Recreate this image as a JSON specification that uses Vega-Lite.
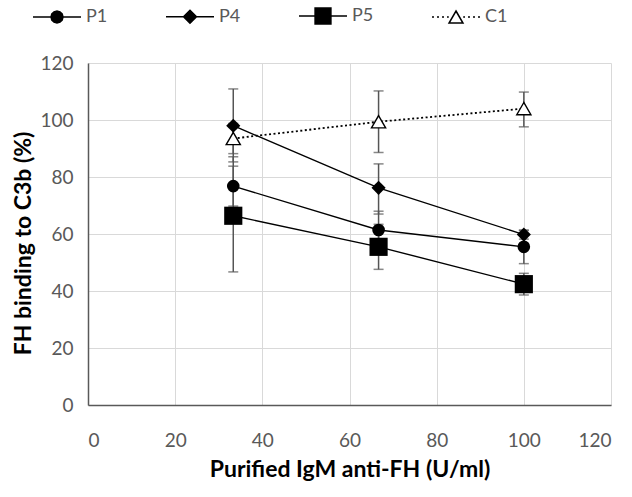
{
  "$schema": "https://vega.github.io/schema/vega-lite/v6.json",
  "width": 523,
  "height": 342,
  "autosize": "none",
  "padding": {"left": 88, "top": 63, "right": 21, "bottom": 92},
  "background": "white",
  "config": {"view": {"stroke": null}, "font": "Lato"},
  "data": {
    "values": [
      {"s": "P1", "x": 33.33, "y": 76.8, "lo": 69.8, "hi": 83.8},
      {"s": "P1", "x": 66.67, "y": 61.4, "lo": 54.8, "hi": 68.0},
      {"s": "P1", "x": 100, "y": 55.5, "lo": 49.6, "hi": 61.2},
      {"s": "P4", "x": 33.33, "y": 98.0, "lo": 85.3, "hi": 110.9},
      {"s": "P4", "x": 66.67, "y": 76.2, "lo": 67.0, "hi": 84.6},
      {"s": "P4", "x": 100, "y": 59.8, "lo": 58.2, "hi": 61.4},
      {"s": "P5", "x": 33.33, "y": 66.4, "lo": 46.7, "hi": 87.1},
      {"s": "P5", "x": 66.67, "y": 55.5, "lo": 47.6, "hi": 63.4},
      {"s": "P5", "x": 100, "y": 42.4, "lo": 38.6, "hi": 46.2},
      {"s": "C1", "x": 33.33, "y": 93.5, "lo": 88.2, "hi": 98.8},
      {"s": "C1", "x": 66.67, "y": 99.4, "lo": 88.6, "hi": 110.2},
      {"s": "C1", "x": 100, "y": 104.0, "lo": 97.6, "hi": 109.8}
    ]
  },
  "layer": [
    {
      "mark": {"type": "rule", "color": "#555555", "strokeWidth": 1.5},
      "encoding": {
        "x": {
          "field": "x", "type": "quantitative",
          "scale": {"domain": [0, 120], "nice": false, "zero": false},
          "axis": {
            "title": "Purified IgM anti-FH (U/ml)",
            "values": [0, 20, 40, 60, 80, 100, 120],
            "grid": true, "gridColor": "#d9d9d9", "gridWidth": 1,
            "domainColor": "#595959", "domainWidth": 1.5,
            "ticks": false, "tickSize": 0,
            "labelPadding": 26, "labelFontSize": 19, "labelColor": "#595959", "labelFont": "Lato",
            "titleFont": "Lato", "titleFontSize": 23, "titleFontWeight": "bold", "titleColor": "#000000",
            "titleBaseline": "middle", "titleY": 64
          }
        },
        "y": {
          "field": "lo", "type": "quantitative",
          "scale": {"domain": [0, 120], "nice": false},
          "axis": {
            "title": "FH binding to C3b (%)",
            "values": [0, 20, 40, 60, 80, 100, 120],
            "grid": true, "gridColor": "#d9d9d9", "gridWidth": 1,
            "domainColor": "#595959", "domainWidth": 1.5,
            "ticks": false, "tickSize": 0,
            "labelPadding": 15, "labelFontSize": 19, "labelColor": "#595959", "labelFont": "Lato",
            "titleFont": "Lato", "titleFontSize": 23, "titleFontWeight": "bold", "titleColor": "#000000",
            "titleBaseline": "middle", "titleX": -65, "titleY": 180
          }
        },
        "y2": {"field": "hi"}
      }
    },
    {
      "mark": {"type": "tick", "orient": "horizontal", "color": "#555555", "thickness": 1.5, "size": 10},
      "encoding": {
        "x": {"field": "x", "type": "quantitative"},
        "y": {"field": "lo", "type": "quantitative"}
      }
    },
    {
      "mark": {"type": "tick", "orient": "horizontal", "color": "#555555", "thickness": 1.5, "size": 10},
      "encoding": {
        "x": {"field": "x", "type": "quantitative"},
        "y": {"field": "hi", "type": "quantitative"}
      }
    },
    {
      "transform": [{"filter": "datum.s !== 'C1'"}],
      "mark": {"type": "line", "color": "black", "strokeWidth": 1.4},
      "encoding": {
        "x": {"field": "x", "type": "quantitative"},
        "y": {"field": "y", "type": "quantitative"},
        "detail": {"field": "s", "type": "nominal"}
      }
    },
    {
      "transform": [{"filter": "datum.s === 'C1'"}],
      "mark": {"type": "line", "color": "black", "strokeWidth": 1.8, "strokeDash": [2, 2.5]},
      "encoding": {
        "x": {"field": "x", "type": "quantitative"},
        "y": {"field": "y", "type": "quantitative"}
      }
    },
    {
      "transform": [{"filter": "datum.s === 'P1'"}],
      "mark": {"type": "point", "shape": "circle", "size": 160, "filled": true, "color": "black", "opacity": 1},
      "encoding": {
        "x": {"field": "x", "type": "quantitative"},
        "y": {"field": "y", "type": "quantitative"}
      }
    },
    {
      "transform": [{"filter": "datum.s === 'P4'"}],
      "mark": {"type": "point", "shape": "diamond", "size": 200, "filled": true, "color": "black", "opacity": 1},
      "encoding": {
        "x": {"field": "x", "type": "quantitative"},
        "y": {"field": "y", "type": "quantitative"}
      }
    },
    {
      "transform": [{"filter": "datum.s === 'P5'"}],
      "mark": {"type": "point", "shape": "square", "size": 330, "filled": true, "color": "black", "opacity": 1},
      "encoding": {
        "x": {"field": "x", "type": "quantitative"},
        "y": {"field": "y", "type": "quantitative"}
      }
    },
    {
      "transform": [{"filter": "datum.s === 'C1'"}],
      "mark": {"type": "point", "shape": "triangle-up", "size": 200, "fill": "white", "stroke": "black", "strokeWidth": 1.4, "opacity": 1},
      "encoding": {
        "x": {"field": "x", "type": "quantitative"},
        "y": {"field": "y", "type": "quantitative"}
      }
    },
    {
      "mark": {"type": "point", "filled": false, "color": "black", "strokeWidth": 1.5, "opacity": 0},
      "encoding": {
        "x": {"field": "x", "type": "quantitative"},
        "y": {"field": "y", "type": "quantitative"},
        "shape": {
          "field": "s", "type": "nominal",
          "scale": {
            "domain": ["P1", "P4", "P5", "C1"],
            "range": [
              "M-1,0L1,0M0.25,0L0.2165,0.125L0.125,0.2165L0,0.25L-0.125,0.2165L-0.2165,0.125L-0.25,0L-0.2165,-0.125L-0.125,-0.2165L0,-0.25L0.125,-0.2165L0.2165,-0.125ZM0.2,0L0.1732,0.1L0.1,0.1732L0,0.2L-0.1,0.1732L-0.1732,0.1L-0.2,0L-0.1732,-0.1L-0.1,-0.1732L0,-0.2L0.1,-0.1732L0.1732,-0.1ZM0.15,0L0.13,0.075L0.075,0.13L0,0.15L-0.075,0.13L-0.13,0.075L-0.15,0L-0.13,-0.075L-0.075,-0.13L0,-0.15L0.075,-0.13L0.13,-0.075ZM0.1,0L0.0707,0.0707L0,0.1L-0.0707,0.0707L-0.1,0L-0.0707,-0.0707L0,-0.1L0.0707,-0.0707ZM0.05,0L0,0.05L-0.05,0L0,-0.05Z",
              "M-1,0L1,0M-0.27,0L0,-0.27L0.27,0L0,0.27ZM-0.22,0L0,-0.22L0.22,0L0,0.22ZM-0.17,0L0,-0.17L0.17,0L0,0.17ZM-0.12,0L0,-0.12L0.12,0L0,0.12ZM-0.07,0L0,-0.07L0.07,0L0,0.07ZM-0.02,0L0,-0.02L0.02,0L0,0.02Z",
              "M-1,0L1,0M-0.33,-0.33L0.33,-0.33L0.33,0.33L-0.33,0.33ZM-0.28,-0.28L0.28,-0.28L0.28,0.28L-0.28,0.28ZM-0.23,-0.23L0.23,-0.23L0.23,0.23L-0.23,0.23ZM-0.18,-0.18L0.18,-0.18L0.18,0.18L-0.18,0.18ZM-0.13,-0.13L0.13,-0.13L0.13,0.13L-0.13,0.13ZM-0.08,-0.08L0.08,-0.08L0.08,0.08L-0.08,0.08ZM-0.03,-0.03L0.03,-0.03L0.03,0.03L-0.03,0.03Z",
              "M-1,0L-0.917,0M-0.792,0L-0.708,0M-0.583,0L-0.5,0M-0.375,0L-0.3,0M0.3,0L0.375,0M0.5,0L0.583,0M0.708,0L0.792,0M0.917,0L1,0M0,-0.25L0.29,0.25L-0.29,0.25Z"
            ]
          },
          "legend": {
            "title": null, "orient": "none", "legendX": -56, "legendY": -72,
            "direction": "horizontal", "columns": 4, "gridAlign": "all", "columnPadding": 54,
            "symbolSize": 2304, "symbolStrokeWidth": 1.5, "symbolStrokeColor": "black",
            "labelFontSize": 18, "labelColor": "#595959", "labelFont": "Lato", "labelOffset": 4, "padding": 0,
            "encode": {
              "symbols": {
                "update": {
                  "opacity": {"value": 1}
                }
              }
            }
          }
        }
      }
    }
  ]
}
